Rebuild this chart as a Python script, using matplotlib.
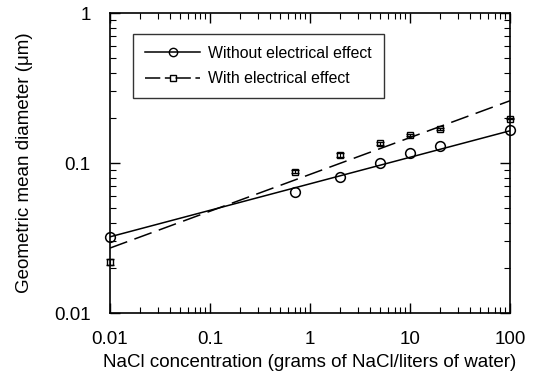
import matplotlib.pyplot as plt
from matplotlib.lines import Line2D
from matplotlib.ticker import LogLocator, NullFormatter, FixedLocator, FixedFormatter

plt.rcParams['font.family'] = ['Liberation Sans', 'DejaVu Sans']

# Data
conc = [0.01, 0.7, 2, 5, 10, 20, 100]
d_without = [0.032, 0.064, 0.081, 0.100, 0.117, 0.130, 0.166]
d_with = [0.022, 0.0875, 0.113, 0.135, 0.154, 0.168, 0.198]
err_with = [0.001, 0.002, 0.004, 0.003, 0.003, 0.003, 0.002]

fit_x = [0.01, 100]
fit_without = [0.0322, 0.164]
fit_with = [0.0271, 0.26]

xticks = [0.01, 0.1, 1, 10, 100]
xtick_labels = ['0.01', '0.1', '1', '10', '100']
yticks = [0.01, 0.1, 1]
ytick_labels = ['0.01', '0.1', '1']

fig = plt.figure(figsize=(5.36, 3.71), dpi=100)
ax = fig.add_axes([110 / 536, 1 - 313 / 371, 400 / 536, 300 / 371])

ax.plot(fit_x, fit_without, color='black', lw=1.1)
ax.plot(fit_x, fit_with, color='black', lw=1.1, dashes=(12, 5))

ax.plot(conc, d_without, 'o', ms=7, mfc='none', mec='black', mew=1.1, clip_on=False)
ax.errorbar(conc, d_with, yerr=err_with, fmt='s', ms=5, mfc='none', mec='black',
            mew=1.0, ecolor='black', elinewidth=0.8, capsize=3, clip_on=False)

ax.set_xscale('log')
ax.set_yscale('log')
ax.set_xlim(0.01, 100)
ax.set_ylim(0.01, 1)

ax.xaxis.set_major_locator(FixedLocator(xticks))
ax.xaxis.set_major_formatter(FixedFormatter(xtick_labels))
ax.yaxis.set_major_locator(FixedLocator(yticks))
ax.yaxis.set_major_formatter(FixedFormatter(ytick_labels))
ax.xaxis.set_minor_locator(LogLocator(base=10, subs=range(2, 10)))
ax.yaxis.set_minor_locator(LogLocator(base=10, subs=range(2, 10)))
ax.xaxis.set_minor_formatter(NullFormatter())
ax.yaxis.set_minor_formatter(NullFormatter())
ax.tick_params(which='both', direction='in', top=True, right=True, labelsize=13.5)
ax.tick_params(which='major', length=7, width=1)
ax.tick_params(which='minor', length=4, width=0.8)
ax.tick_params(axis='x', which='major', pad=13)
ax.tick_params(axis='y', which='major', pad=14)
for s in ax.spines.values():
    s.set_linewidth(1.2)

ax.set_xlabel('NaCl concentration (grams of NaCl/liters of water)', fontsize=13.5, labelpad=4)
ax.set_ylabel('Geometric mean diameter (\u03bcm)', fontsize=13.5, labelpad=15)

handles = [
    Line2D([], [], color='black', lw=1.1, marker='o', ms=6, mfc='none', mec='black'),
    Line2D([], [], color='black', lw=1.1, dashes=(10, 3, 4, 3), marker='s', ms=5,
           mfc='none', mec='black'),
]
leg = ax.legend(handles, ['Without electrical effect', 'With electrical effect'],
                loc='upper left', bbox_to_anchor=(0.0575, 0.93), borderaxespad=0,
                fontsize=11.4, frameon=True, fancybox=False, edgecolor='black',
                handlelength=3.5, handletextpad=0.5, borderpad=0.75, labelspacing=0.65)
leg.get_frame().set_linewidth(1.0)

fig.savefig('out.png', dpi=100)
